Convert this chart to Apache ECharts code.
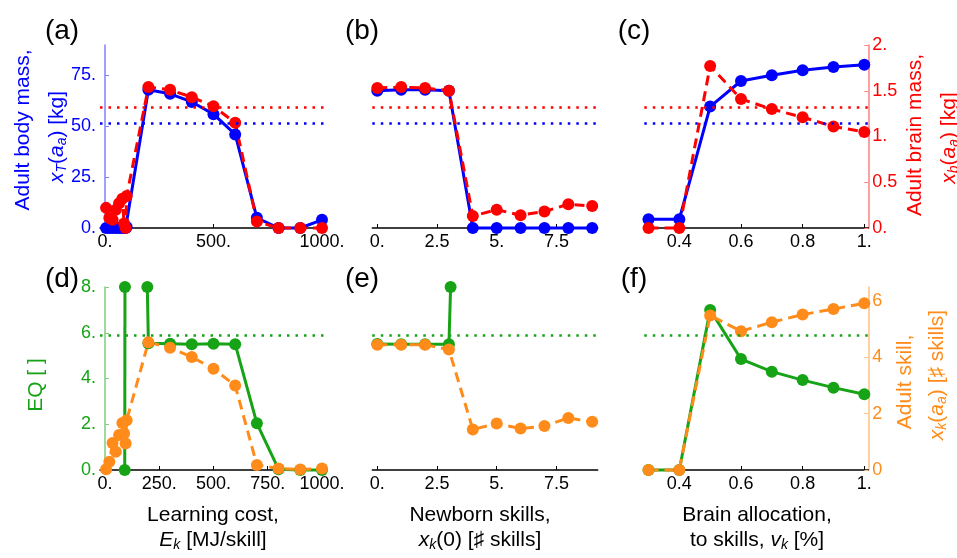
<!DOCTYPE html>
<html><head><meta charset="utf-8">
<script src="https://cdn.jsdelivr.net/npm/echarts@6/dist/echarts.min.js"></script>
<style>html,body{margin:0;padding:0;background:#fff}#c{width:957px;height:558px}</style>
</head><body><div id="c"></div>
<script>
// ---- data ----
// Panels (a) and (d): learning cost E_k [MJ/skill]
const ekA = [5, 20, 35, 50, 65, 80, 88, 95, 100, 200, 300, 400, 500, 600, 700, 800, 900, 1000];
const bodyA = [0, 0, 0, 0, 0, 0, 0, 0, 0.5, 68, 66, 62, 56, 46, 5, 0, 0, 4];
const brainA = [0.22, 0.11, 0.09, 0.2, 0.27, 0.32, 0.05, 0, 0.35, 1.54, 1.51, 1.43, 1.33, 1.15, 0.07, 0, 0, 0];
const skillD = [0.03, 0.29, 0.96, 0.65, 1.24, 1.67, 1.3, 0.94, 1.77, 4.54, 4.34, 4.01, 3.6, 3.0, 0.18, 0.05, 0.02, 0.05];
const eqD1x = [91, 92];
const eqD1 = [0, 8];
const eqD2x = [195, 200, 300, 400, 500, 600, 700, 800, 900, 1000];
const eqD2 = [8, 5.54, 5.52, 5.5, 5.52, 5.5, 2.04, 0.03, 0, 0];

// Panels (b) and (e): newborn skills x_k(0)
const xkB = [0, 1, 2, 3, 4, 5, 6, 7, 8, 9];
const bodyB = [67.5, 68, 68, 67.5, 0, 0, 0, 0, 0, 0];
const brainB = [1.53, 1.54, 1.53, 1.5, 0.13, 0.2, 0.14, 0.18, 0.26, 0.24];
const skillE = [4.45, 4.45, 4.45, 4.28, 1.44, 1.65, 1.47, 1.56, 1.85, 1.71];
const eqEx = [0, 1, 2, 3, 3.07];
const eqE = [5.51, 5.5, 5.5, 5.5, 8];

// Panels (c) and (f): brain allocation to skills v_k
const vkC = [0.3, 0.4, 0.5, 0.6, 0.7, 0.8, 0.9, 1.0];
const bodyC = [4.3, 4.3, 59.7, 72.3, 75.1, 77.6, 79.2, 80.3];
const brainC = [0, 0, 1.77, 1.41, 1.30, 1.21, 1.11, 1.05];
const eqF = [0, 0, 7.0, 4.85, 4.3, 3.93, 3.6, 3.31];
const skillF = [0, 0, 5.49, 4.93, 5.25, 5.52, 5.72, 5.92];

// reference (dotted) levels
const bodyRef = 51.5, brainRef = 1.32, eqRef = 5.9;

// tick values
const ticksEk1 = [0, 500, 1000];
const ticksEk2 = [0, 250, 500, 750, 1000];
const ticksXk = [0, 2.5, 5, 7.5];
const ticksVk = [0.4, 0.6, 0.8, 1.0];
const ticksBody = [0, 25, 50, 75];
const ticksBrain = [0, 0.5, 1, 1.5, 2];
const ticksEQ = [0, 2, 4, 6, 8];
const ticksSkill = [0, 2, 4, 6];

// ---- styling ----
const FF = "'Liberation Sans', Arial, Helvetica, sans-serif";
const BLUE = '#0000ff', RED = '#ff0000', GREEN = '#16a316', ORANGE = '#ff8c1a';
const fmtM = v => Number.isInteger(v) ? v + '.' : String(v);
const fmtP = v => String(v);
const zip = (xs, ys) => xs.map((x, i) => [x, ys[i]]);

const gridsTop = 45, gridH = 183, gridsTop2 = 287, gridH2 = 183;
const cols = [
  {left: 100, width: 226.7, min: -23, max: 1021.7},
  {left: 372.3, width: 225.4, min: -0.209, max: 9.23},
  {left: 644.3, width: 224, min: 0.2864, max: 1.013}
];

const grid = [];
for (let r = 0; r < 2; r++) for (let c = 0; c < 3; c++)
  grid.push({left: cols[c].left, width: cols[c].width, top: r ? gridsTop2 : gridsTop, height: r ? gridH2 : gridH, containLabel: false});

function xAx(gi, col, ticks) {
  return {type: 'value', gridIndex: gi, min: cols[col].min, max: cols[col].max, position: 'bottom',
    axisLine: {show: true, onZero: false, lineStyle: {color: '#000', width: 1.5}},
    axisTick: {show: true, inside: true, length: 4, customValues: ticks, lineStyle: {color: '#000'}},
    axisLabel: {customValues: ticks, formatter: fmtM, fontSize: 18, color: '#000', margin: 5, fontFamily: FF},
    splitLine: {show: false}};
}
function yAx(gi, pos, max, ticks, fmt, show, lineColor, labelColor) {
  return {type: 'value', gridIndex: gi, position: pos, min: 0, max: max, show: show,
    axisLine: {show: true, lineStyle: {color: lineColor, width: 1.5}},
    axisTick: {show: true, inside: true, length: 4, customValues: ticks, lineStyle: {color: lineColor}},
    axisLabel: {customValues: ticks, formatter: fmt, fontSize: 18, color: labelColor, margin: 4, fontFamily: FF},
    splitLine: {show: false}};
}

const xAxis = [xAx(0, 0, ticksEk1), xAx(1, 1, ticksXk), xAx(2, 2, ticksVk),
               xAx(3, 0, ticksEk2), xAx(4, 1, ticksXk), xAx(5, 2, ticksVk)];
const yAxis = [];
for (let c = 0; c < 3; c++) {
  yAxis.push(yAx(c, 'left', 90, ticksBody, fmtM, c === 0, '#8080ff', BLUE));
  yAxis.push(yAx(c, 'right', 2, ticksBrain, fmtM, c === 2, '#ff8080', RED));
}
for (let c = 0; c < 3; c++) {
  yAxis.push(yAx(3 + c, 'left', 8, ticksEQ, fmtM, c === 0, '#80cc80', GREEN));
  yAxis.push(yAx(3 + c, 'right', 6.5, ticksSkill, fmtP, c === 2, '#ffc080', ORANGE));
}

function ref(value, color) {
  return {silent: true, symbol: 'none', animation: false, label: {show: false},
    lineStyle: {type: [2.5, 6], color: color, width: 2.5}, data: [{yAxis: value}]};
}
function ser(p, side, xs, ys, color, dashed, mark) {
  const s = {type: 'line', xAxisIndex: p, yAxisIndex: 2 * p + side, data: zip(xs, ys),
    symbol: 'circle', symbolSize: 12, showSymbol: true, clip: false,
    itemStyle: {color: color}, lineStyle: {color: color, width: 3, type: dashed ? [10, 6] : 'solid'},
    emphasis: {disabled: true}};
  if (mark) s.markLine = mark;
  return s;
}

const series = [];
// top row
series.push(ser(0, 0, ekA, bodyA, BLUE, false, ref(bodyRef, BLUE)));
series.push(ser(0, 1, ekA, brainA, RED, true, ref(brainRef, RED)));
series.push(ser(1, 0, xkB, bodyB, BLUE, false, ref(bodyRef, BLUE)));
series.push(ser(1, 1, xkB, brainB, RED, true, ref(brainRef, RED)));
series.push(ser(2, 0, vkC, bodyC, BLUE, false, ref(bodyRef, BLUE)));
series.push(ser(2, 1, vkC, brainC, RED, true, ref(brainRef, RED)));
// bottom row
series.push(ser(3, 0, eqD1x, eqD1, GREEN, false, ref(eqRef, GREEN)));
series.push(ser(3, 0, eqD2x, eqD2, GREEN, false));
series.push(ser(3, 1, ekA, skillD, ORANGE, true));
series.push(ser(4, 0, eqEx, eqE, GREEN, false, ref(eqRef, GREEN)));
series.push(ser(4, 1, xkB, skillE, ORANGE, true));
series.push(ser(5, 0, vkC, eqF, GREEN, false, ref(eqRef, GREEN)));
series.push(ser(5, 1, vkC, skillF, ORANGE, true));

function rich(color, size) {
  return {
    it: {fontStyle: 'italic', fontSize: size, fill: color, fontFamily: FF},
    sub: {fontStyle: 'italic', fontSize: Math.round(size * 0.68), fill: color, fontFamily: FF, padding: [10, 0, 0, 0]}
  };
}
function txt(x, y, text, color, size, rot) {
  return {type: 'text', x: x, y: y, rotation: rot ? Math.PI / 2 : 0, silent: true,
    style: {text: text, fill: color, fontSize: size, fontFamily: FF,
      align: 'center', verticalAlign: 'middle', textAlign: 'center', textVerticalAlign: 'middle',
      rich: rich(color, size)}};
}
const graphic = [
  txt(62, 31, '(a)', '#000', 28), txt(362, 31, '(b)', '#000', 28), txt(634, 31, '(c)', '#000', 28),
  txt(62, 279, '(d)', '#000', 28), txt(362, 279, '(e)', '#000', 28), txt(634, 279, '(f)', '#000', 28),
  txt(23, 130, 'Adult body mass,', BLUE, 21, true),
  txt(57, 137, '{it|x}{sub|T}({it|a}{sub|a}) [kg]', BLUE, 21, true),
  txt(915, 135, 'Adult brain mass,', RED, 21, true),
  txt(949, 138, '{it|x}{sub|b}({it|a}{sub|a}) [kg]', RED, 21, true),
  txt(36, 385, 'EQ [ ]', GREEN, 21, true),
  txt(905, 382, 'Adult skill,', ORANGE, 21, true),
  txt(937, 375, '{it|x}{sub|k}({it|a}{sub|a}) [\u266F skills]', ORANGE, 21, true),
  txt(213, 515, 'Learning cost,', '#000', 21),
  txt(213, 540, '{it|E}{sub|k} [MJ/skill]', '#000', 21),
  txt(480, 515, 'Newborn skills,', '#000', 21),
  txt(480, 540, '{it|x}{sub|k}(0) [\u266F skills]', '#000', 21),
  txt(757, 515, 'Brain allocation,', '#000', 21),
  txt(757, 540, 'to skills, {it|v}{sub|k} [%]', '#000', 21)
];

const chart = echarts.init(document.getElementById('c'), null, {renderer: 'canvas'});
chart.setOption({animation: false, backgroundColor: '#fff', grid, xAxis, yAxis, series, graphic});
</script>
</body></html>
